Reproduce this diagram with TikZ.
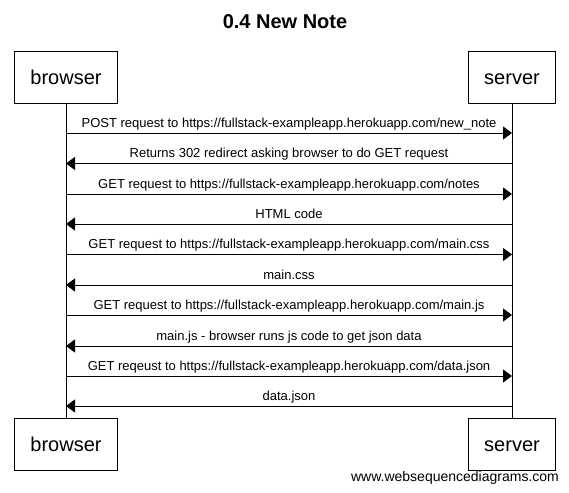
\documentclass[tikz,border=0pt]{standalone}
\usepackage{fontspec}
\setmainfont{Liberation Sans}
\usetikzlibrary{arrows.meta}
\begin{document}
\begin{tikzpicture}[x=1pt,y=-1pt,
  actor/.style={draw,line width=0.9pt,minimum height=52pt,inner xsep=16pt,text height=18pt,text depth=3.5pt,font=\fontsize{20}{24}\selectfont,anchor=center},
  life/.style={line width=0.9pt},
  msg/.style={line width=0.9pt,-{Triangle[length=9pt,width=13pt]}},
  lbl/.style={font=\fontsize{13}{15}\selectfont,above,inner sep=2.5pt,text height=9.5pt,text depth=2.8pt}]
\useasboundingbox (0,0) rectangle (569,492);
\node[font=\bfseries\fontsize{20}{24}\selectfont] (title) at (285,22) {0.4 New Note};
\node[actor] (bt) at (66,77) {browser};
\node[actor] (st) at (512,77) {server};
\node[actor] (bb) at (66,444) {browser};
\node[actor] (sb) at (512,444) {server};
\draw[life] (bt) -- (bb);
\draw[life] (st) -- (sb);
\foreach \i/\y in {1/133,2/163.5,3/194,4/224,5/254.5,6/285,7/315,8/346,9/376,10/406}{
  \coordinate (b\i) at (66,\y);
  \coordinate (s\i) at (512,\y);
}
\draw[msg] (b1) -- node[lbl]{POST request to https://fullstack-exampleapp.herokuapp.com/new\_note} (s1);
\draw[msg] (s2) -- node[lbl]{Returns 302 redirect asking browser to do GET request} (b2);
\draw[msg] (b3) -- node[lbl]{GET request to https://fullstack-exampleapp.herokuapp.com/notes} (s3);
\draw[msg] (s4) -- node[lbl]{HTML code} (b4);
\draw[msg] (b5) -- node[lbl]{GET request to https://fullstack-exampleapp.herokuapp.com/main.css} (s5);
\draw[msg] (s6) -- node[lbl]{main.css} (b6);
\draw[msg] (b7) -- node[lbl]{GET request to https://fullstack-exampleapp.herokuapp.com/main.js} (s7);
\draw[msg] (s8) -- node[lbl]{main.js - browser runs js code to get json data} (b8);
\draw[msg] (b9) -- node[lbl]{GET reqeust to https://fullstack-exampleapp.herokuapp.com/data.json} (s9);
\draw[msg] (s10) -- node[lbl]{data.json} (b10);
\node[font=\fontsize{14}{16}\selectfont] (wm) at (455,478) {www.websequencediagrams.com};
\end{tikzpicture}
\end{document}
